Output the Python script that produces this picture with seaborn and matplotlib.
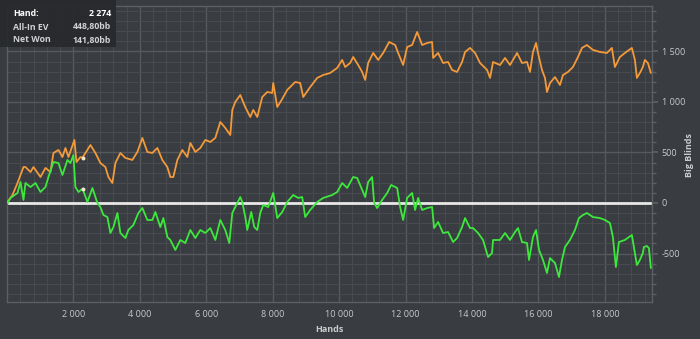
import matplotlib
matplotlib.use("Agg")
import matplotlib.pyplot as plt
import seaborn as sns
import pandas as pd
from matplotlib import font_manager
from matplotlib.ticker import FuncFormatter, MultipleLocator, FixedLocator
from matplotlib.patches import Rectangle

# ---------------- data ----------------
ev_hands = [15, 165, 316, 496, 556, 707, 797, 1008, 1158, 1308, 1399, 1549, 1669, 1760, 1850,
            2030, 2091, 2211, 2274, 2512, 2662, 2812, 2963, 3053, 3173, 3264, 3414, 3564, 3775,
            3925, 4076, 4226, 4377, 4527, 4677, 4828, 4918, 5008, 5129, 5279, 5429, 5520, 5670,
            5820, 5971, 6121, 6272, 6422, 6572, 6723, 6783, 6873, 7023, 7174, 7324, 7415, 7535,
            7685, 7836, 7986, 8016, 8137, 8287, 8437, 8678, 8828, 8919, 9129, 9340, 9520, 9731,
            9941, 10092, 10182, 10332, 10423, 10573, 10693, 10784, 10874, 11025, 11175, 11326,
            11506, 11687, 11777, 11927, 12047, 12198, 12348, 12499, 12649, 12800, 12830, 12980,
            13130, 13281, 13401, 13551, 13702, 13792, 13942, 14093, 14243, 14454, 14544, 14634,
            14845, 14995, 15145, 15356, 15506, 15657, 15747, 15837, 15928, 15988, 16108, 16198,
            16258, 16349, 16499, 16649, 16740, 16890, 17040, 17191, 17311, 17461, 17642, 17852,
            18063, 18213, 18303, 18454, 18604, 18814, 18905, 18965, 19055, 19145, 19205, 19296,
            19386]
ev_bb = [10, 79, 198, 356, 356, 307, 356, 257, 347, 307, 495, 525, 455, 545, 455,
         624, 406, 455, 449, 574, 495, 396, 356, 257, 198, 396, 495, 446, 426,
         505, 644, 505, 495, 545, 426, 356, 257, 257, 426, 525, 455, 594, 505,
         545, 624, 604, 644, 802, 743, 673, 921, 1000, 1069, 950, 851, 921, 851,
         1049, 1099, 1089, 1188, 950, 1030, 1119, 1198, 1188, 1049, 1148, 1238, 1267, 1287,
         1337, 1416, 1346, 1386, 1445, 1366, 1297, 1218, 1386, 1485, 1416, 1485,
         1594, 1564, 1485, 1366, 1544, 1564, 1693, 1564, 1584, 1594, 1436, 1485,
         1386, 1396, 1317, 1297, 1396, 1495, 1535, 1485, 1386, 1317, 1238, 1396,
         1366, 1436, 1366, 1485, 1386, 1396, 1297, 1495, 1584, 1485, 1317, 1238,
         1099, 1188, 1247, 1168, 1267, 1297, 1346, 1445, 1535, 1564, 1515, 1495,
         1485, 1535, 1346, 1445, 1485, 1535, 1416, 1238, 1287, 1346, 1416, 1386,
         1287]

won_hands = [15, 105, 316, 406, 496, 556, 707, 857, 1008, 1158, 1248, 1399, 1549, 1669, 1820,
             1910, 2000, 2060, 2151, 2274, 2421, 2572, 2722, 2812, 2903, 3023, 3113, 3204, 3324,
             3414, 3564, 3655, 3805, 3956, 4076, 4226, 4377, 4467, 4617, 4708, 4828, 4918, 5069,
             5219, 5369, 5520, 5670, 5820, 5971, 6121, 6272, 6422, 6572, 6693, 6783, 6933, 7023,
             7084, 7174, 7234, 7354, 7445, 7535, 7625, 7715, 7866, 8016, 8137, 8287, 8437, 8618,
             8768, 8888, 8979, 9129, 9340, 9520, 9791, 9941, 10092, 10242, 10423, 10543, 10693,
             10784, 10874, 10994, 11054, 11145, 11295, 11446, 11566, 11747, 11837, 11927, 12047,
             12198, 12288, 12378, 12499, 12649, 12800, 12860, 12980, 13130, 13281, 13431, 13551,
             13702, 13792, 13942, 14033, 14183, 14333, 14484, 14604, 14634, 14845, 14995, 15145,
             15296, 15386, 15506, 15657, 15717, 15837, 15928, 16018, 16138, 16258, 16349, 16499,
             16619, 16710, 16800, 16950, 17101, 17221, 17341, 17461, 17642, 17852, 18003, 18153,
             18243, 18333, 18424, 18604, 18814, 18875, 18965, 19055, 19145, 19175, 19266, 19326,
             19386]
won_bb = [0, 50, 99, 208, 30, 198, 158, 198, 109, 158, 257, 406, 396, 277, 426,
          396, 475, 158, 109, 142, 10, 149, 0, -40, -119, -139, -297, -238, -99,
          -297, -347, -267, -218, -99, -50, -168, -168, -89, -238, -149, -337, -366, -465,
          -366, -396, -267, -347, -267, -297, -248, -366, -168, -267, -396, -99, 0, 59,
          10, -139, -267, -89, -238, -267, -99, -20, -40, 99, -149, -89, 10, 79,
          50, 59, -139, -69, 10, 50, 79, 109, 198, 149, 257, 248, 129,
          59, 208, 257, 0, -50, 30, 99, 178, 149, -40, -168, 50,
          99, -69, 50, -69, -50, -40, -248, -188, -297, -287, -386, -347,
          -238, -149, -248, -248, -297, -366, -535, -495, -366, -366, -297, -366,
          -287, -248, -386, -396, -564, -337, -267, -465, -564, -693, -545, -594,
          -733, -564, -436, -366, -267, -149, -119, -99, -139, -149, -168, -198,
          -337, -634, -386, -366, -317, -436, -614, -564, -495, -436, -426, -446,
          -644]

hover_hand = 2274
hover_ev = 448.80
hover_won = 141.80

x_ticks = [2000, 4000, 6000, 8000, 10000, 12000, 14000, 16000, 18000]
y_ticks = [-500, 0, 500, 1000, 1500]

# ---------------- style ----------------
BG = "#393c40"
MAJOR = "#56595d"
MINOR = "#474a4e"
SPINE = "#5c5f63"
TXT = "#c9cbcd"
ORANGE = "#f39a3a"
GREEN = "#3de83d"

sns.set_theme(style="dark")
avail = {f.name for f in font_manager.fontManager.ttflist}
fam = "Liberation Sans Narrow" if "Liberation Sans Narrow" in avail else "Open Sans"
plt.rcParams["font.family"] = [fam, "DejaVu Sans"]

fig = plt.figure(figsize=(7.0, 3.39), dpi=100, facecolor=BG)
ax = fig.add_axes([7 / 700, 1 - 302 / 339, (652 - 7) / 700, (302 - 6) / 339])
ax.set_facecolor(BG)

ev_df = pd.DataFrame({"Hands": ev_hands, "BB": ev_bb})
won_df = pd.DataFrame({"Hands": won_hands, "BB": won_bb})

ax.axhline(0, color="#e8e8e8", lw=2.0, zorder=2)
sns.lineplot(data=ev_df, x="Hands", y="BB", ax=ax, color=ORANGE, lw=1.3,
             estimator=None, sort=False, zorder=3)
sns.lineplot(data=won_df, x="Hands", y="BB", ax=ax, color=GREEN, lw=1.3,
             estimator=None, sort=False, zorder=3)
ax.scatter([hover_hand, hover_hand], [hover_ev, hover_won], s=8, color="#f4e6c8", zorder=4,
           linewidths=0)

ax.set_xlim(0, 19420)
ax.set_ylim(-980, 1950)

ax.xaxis.set_major_locator(FixedLocator(x_ticks))
ax.xaxis.set_minor_locator(MultipleLocator(400))
ax.yaxis.set_major_locator(FixedLocator(y_ticks))
ax.yaxis.set_minor_locator(MultipleLocator(100))

fmt = FuncFormatter(lambda v, p: f"{int(v):,}".replace(",", " "))
ax.xaxis.set_major_formatter(fmt)
ax.yaxis.set_major_formatter(fmt)

ax.grid(which="major", color=MAJOR, lw=1.0, zorder=0)
ax.grid(which="minor", color=MINOR, lw=0.8, zorder=0)
ax.set_axisbelow(True)

ax.yaxis.tick_right()
ax.tick_params(axis="both", which="both", colors=SPINE, labelcolor=TXT, labelsize=6.5)
ax.tick_params(axis="x", which="major", length=3, pad=3)
ax.tick_params(axis="x", which="minor", length=2)
ax.tick_params(axis="y", which="major", length=4, pad=3, left=False, right=True)
ax.tick_params(axis="y", which="minor", length=3, left=False, right=True)
for s in ax.spines.values():
    s.set_color(SPINE)
    s.set_linewidth(1.0)

ax.set_xlabel("")
ax.set_ylabel("")
fig.text(329 / 700, 1 - 329 / 339, "Hands", color=TXT, fontsize=6.5, fontweight="bold",
         ha="center", va="center")
fig.text(689 / 700, 1 - 155 / 339, "Big Blinds", color=TXT, fontsize=6.5, fontweight="bold",
         ha="center", va="center", rotation=90)

# info box
fig.patches.append(Rectangle((0, 1 - 47 / 339), 116 / 700, 47 / 339, transform=fig.transFigure,
                             facecolor="#27292c", edgecolor="none", alpha=0.92, zorder=10))
rows = [("Hand:", "2 274", "#ffffff"), ("All-In EV", "448,80bb", "#cfd1d3"),
        ("Net Won", "141,80bb", "#cfd1d3")]
for i, (lab, val, col) in enumerate(rows):
    yy = 1 - (14 + i * 13) / 339
    fig.text(13 / 700, yy, lab, color=col, fontsize=6.3, fontweight="bold", va="center",
             ha="left", zorder=11)
    fig.text(111 / 700, yy, val, color=col, fontsize=6.3, fontweight="bold", va="center",
             ha="right", zorder=11)

fig.savefig("out.png", dpi=100, facecolor=BG)
